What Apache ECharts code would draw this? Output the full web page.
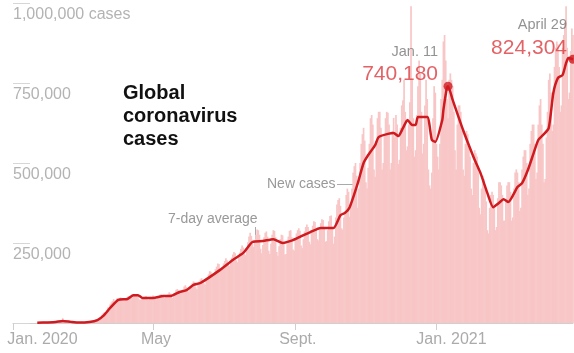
<!DOCTYPE html>
<html>
<head>
<meta charset="utf-8">
<script src="https://cdn.jsdelivr.net/npm/echarts@6/dist/echarts.min.js"></script>
<style>
  html, body { margin: 0; padding: 0; background: #fff; }
  #chart { width: 574px; height: 353px; }
</style>
</head>
<body>
<div id="chart"></div>
<script>
// daily new cases, thousands, first value is Jan 22 2020
var firstDay = [2020, 0, 22];
var jan20 = [0.6,0.1,0.3,0.5,0.7,0.8,1.8,1.5,1.7,2.1];
var feb20 = [2.1,2.6,2.8,3.2,3.9,3.7,3.2,3.4,2.7,3.0,2.5,2.1,15.1,6.4,2.1,2.4,2.0,1.9,1.7,0.9,1.0,0.7,0.6,0.8,0.9,0.9,1.1,1.6,1.9];
var mar20 = [1.8,2.3,2.7,2.2,2.7,3.9,3.9,3.7,3.9,4.6,7.0,7.9,10.5,11.0,13.6,15.8,18.0,25.4,30.4,33.6,33.2,41.3,48.7,48.3,58.4,64.6,68.4,74.7,65.8,70.1,77.2];
var apr20 = [74,78,80,75,72,70,76,78,82,84,82,80,78,86,90,90,86,84,74,72,76,78,80,82,84,74,72,76,82,80];
var may20 = [86,82,76,74,78,84,88,90,88,82,78,82,86,90,96,92,80,78,86,94,104,106,102,96,92,96,104,114,118,112,104];
var jun20 = [98,108,116,124,130,128,112,106,118,130,136,140,134,124,120,134,142,152,162,160,150,146,156,168,176,186,184,172,164,174];
var jul20 = [186,194,202,196,184,178,190,204,214,222,218,196,190,206,220,232,242,236,216,212,234,252,270,282,272,248,238,256,276,292,290];
var aug20 = [276,232,218,244,268,282,286,270,226,216,248,276,290,288,268,222,210,240,262,276,274,256,214,216,246,270,288,290,268,230,226];
var sep20 = [262,280,290,296,288,242,234,262,286,300,308,300,254,246,290,304,318,316,298,262,258,292,312,324,322,300,254,256,290,318];
var oct20 = [334,336,298,248,270,330,370,384,390,366,296,292,330,350,400,420,410,332,360,420,470,490,500,460,360,420,500,560,590,610,570];
var nov20 = [440,420,485,560,640,650,620,480,457,560,640,660,660,610,480,500,590,640,660,657,620,480,500,600,641,580,650,620,497,510];
var dec20 = [610,680,696,760,660,540,552,620,690,990,760,640,520,540,650,740,820,780,660,530,560,680,760,700,480,430,420,470,640,740,720];
var jan21 = [560,520,480,560,700,760,880,900,820,700,640,760,780,760,740,660,540,480,620,680,680,660,600,480,460,560,600,590,560,520,420];
var feb21 = [400,500,540,530,520,470,360,340,420,460,450,420,380,290,280,360,400,410,400,360,290,300,390,440,440,430,400,320];
var mar21 = [320,380,430,440,440,410,320,330,420,470,480,470,440,350,360,480,520,540,540,500,400,420,560,600,620,620,560,450,470,620,680];
var apr21 = [700,620,560,440,450,580,660,760,780,720,600,620,800,860,880,870,800,660,680,860,900,940,990,860,700,720,850,920,900];

// 7-day average, thousands
var avgDates = ['2020-01-22','2020-01-31','2020-02-07','2020-02-13','2020-02-20','2020-02-27','2020-03-07','2020-03-14','2020-03-19','2020-03-25',
  '2020-04-01','2020-04-09','2020-04-14','2020-04-18','2020-04-22','2020-05-01','2020-05-10','2020-05-16','2020-05-24','2020-05-30',
  '2020-06-05','2020-06-11','2020-06-28','2020-07-09','2020-07-18','2020-07-26','2020-08-04','2020-08-13','2020-08-21','2020-08-30',
  '2020-09-05','2020-09-14','2020-09-23','2020-10-04','2020-10-10','2020-10-14','2020-10-18','2020-10-25','2020-10-30','2020-11-03',
  '2020-11-09','2020-11-12','2020-11-20','2020-11-25','2020-11-29','2020-12-03','2020-12-07','2020-12-11','2020-12-14','2020-12-16',
  '2020-12-24','2020-12-28','2020-12-31','2021-01-06','2021-01-07','2021-01-10','2021-01-11','2021-01-15','2021-01-24','2021-02-02',
  '2021-02-08','2021-02-14','2021-02-19','2021-02-24','2021-02-28','2021-03-04','2021-03-12','2021-03-16','2021-03-21','2021-03-26',
  '2021-03-30','2021-04-03','2021-04-08','2021-04-12','2021-04-16','2021-04-20','2021-04-23','2021-04-25','2021-04-29'];
var avgValues = [0.6,1.8,3.2,6.5,3.5,1.2,3.0,9,22,47,
  72,75,87,87,78,78,84,84,97,103,
  119,125,166,197,219,253,256,262,250,259,
  269,284,297,297,337,344,362,437,500,525,
  556,581,591,594,584,609,634,619,619,644,
  644,572,566,634,666,735,740.18,697,603,519,
  469,406,362,375,387,378,425,437,478,531,
  572,587,609,719,766,775,812,828,824.304];

// highlighted points
var peakDates = ['2021-01-11', '2021-04-29'];
var peakValues = [740.18, 824.304];
var peakNames = ['Jan. 11', 'April 29'];
var peakTexts = ['740,180', '824,304'];

// axes
var xTickDates = ['2020-01-01', '2020-05-01', '2020-09-01', '2021-01-01'];
var xTickLabels = ['Jan. 2020', 'May', 'Sept.', 'Jan. 2021'];
var yTickValues = [0, 250, 500, 750, 1000];
var yTickLabels = ['', '250,000', '500,000', '750,000', '1,000,000 cases'];

var FONT = '"Liberation Sans", Arial, sans-serif';
var RED = '#cf1a1f';

function day(s) {
  var p = s.split('-');
  return new Date(+p[0], +p[1] - 1, +p[2]).getTime();
}

var daily = [].concat(jan20, feb20, mar20, apr20, may20, jun20, jul20, aug20,
  sep20, oct20, nov20, dec20, jan21, feb21, mar21, apr21);
var barData = daily.map(function (v, i) {
  return [new Date(firstDay[0], firstDay[1], firstDay[2] + i).getTime(), v];
});
var lineData = avgDates.map(function (d, i) { return [day(d), avgValues[i]]; });
var xTicks = xTickDates.map(day);

// label offsets for the two highlighted points
var peakLabelPos = [[-5.5, 5], [-1.5, 5]];
var peakData = peakDates.map(function (d, i) {
  return {
    value: [day(d), peakValues[i]],
    label: {
      show: true,
      position: peakLabelPos[i],
      align: 'right',
      verticalAlign: 'bottom',
      formatter: '{a|' + peakNames[i] + '}\n{b|' + peakTexts[i] + '}'
    }
  };
});

// extra left padding on the Jan labels so the month sits under the tick
var xRich = {
  t0: { padding: [0, 0, 0, 59] },
  t1: { padding: [0, 0, 0, 6] },
  t2: { padding: [0, 0, 0, 5] },
  t3: { padding: [0, 0, 0, 30] }
};

var chart = echarts.init(document.getElementById('chart'), null, { renderer: 'canvas' });

chart.setOption({
  animation: false,
  backgroundColor: '#fff',
  grid: { left: 13, right: 1, top: 3, bottom: 30 },
  xAxis: {
    type: 'value',
    min: day('2020-01-01'),
    max: day('2021-04-29'),
    axisLine: { show: true, lineStyle: { color: '#cfcfcf', width: 1 } },
    axisTick: { show: true, customValues: xTicks, length: 7, lineStyle: { color: '#cfcfcf' } },
    splitLine: { show: false },
    axisLabel: {
      customValues: xTicks,
      hideOverlap: false,
      showMinLabel: true,
      showMaxLabel: true,
      margin: 9,
      color: '#ababab',
      fontSize: 16,
      fontFamily: FONT,
      rich: xRich,
      formatter: function (v) {
        for (var i = 0; i < xTicks.length; i++) {
          if (Math.abs(xTicks[i] - v) < 3600000 * 12) {
            return '{t' + i + '|' + xTickLabels[i] + '}';
          }
        }
        return '';
      }
    }
  },
  yAxis: {
    type: 'value',
    min: 0,
    max: 1000,
    interval: 250,
    axisLine: { show: false },
    splitLine: { show: false },
    axisTick: { show: true, inside: true, length: 17, lineStyle: { color: '#d6d6d6' } },
    axisLabel: {
      inside: true,
      margin: 0,
      align: 'left',
      verticalAlign: 'top',
      padding: [4, 0, 0, 0],
      lineHeight: 16,
      color: '#b3b3b3',
      fontSize: 16,
      fontFamily: FONT,
      formatter: function (v) {
        var i = yTickValues.indexOf(v);
        return i < 0 ? '' : yTickLabels[i];
      }
    }
  },
  series: [
    {
      name: 'New cases',
      type: 'bar',
      data: barData,
      barWidth: 1.7,
      itemStyle: { color: '#f8c6c6' },
      silent: true
    },
    {
      name: '7-day average',
      type: 'line',
      data: lineData,
      smooth: 0.2,
      showSymbol: false,
      lineStyle: { color: RED, width: 2.5 },
      z: 3
    },
    {
      type: 'scatter',
      data: peakData,
      symbol: 'circle',
      symbolSize: 9,
      itemStyle: { color: RED },
      z: 4,
      label: {
        fontFamily: FONT,
        rich: {
          a: { fontSize: 14.5, color: '#777', lineHeight: 22, fontFamily: FONT, align: 'right' },
          b: { fontSize: 21, color: '#dc3b3f', lineHeight: 24, fontFamily: FONT, align: 'right' }
        }
      }
    }
  ],
  graphic: [
    {
      type: 'text', x: 123, y: 82,
      style: { text: 'Global\ncoronavirus\ncases', fill: '#111', font: 'bold 20px ' + FONT, lineHeight: 23 }
    },
    {
      type: 'text', x: 168, y: 219,
      style: { text: '7-day average', fill: '#999', font: '14px ' + FONT, verticalAlign: 'middle' }
    },
    { type: 'line', shape: { x1: 255.5, y1: 227, x2: 255.5, y2: 239 }, style: { stroke: '#aaa', lineWidth: 1 } },
    {
      type: 'text', x: 267, y: 184,
      style: { text: 'New cases', fill: '#999', font: '14px ' + FONT, verticalAlign: 'middle' }
    },
    { type: 'line', shape: { x1: 337, y1: 184.5, x2: 354, y2: 184.5 }, style: { stroke: '#aaa', lineWidth: 1 } }
  ]
});
</script>
</body>
</html>
